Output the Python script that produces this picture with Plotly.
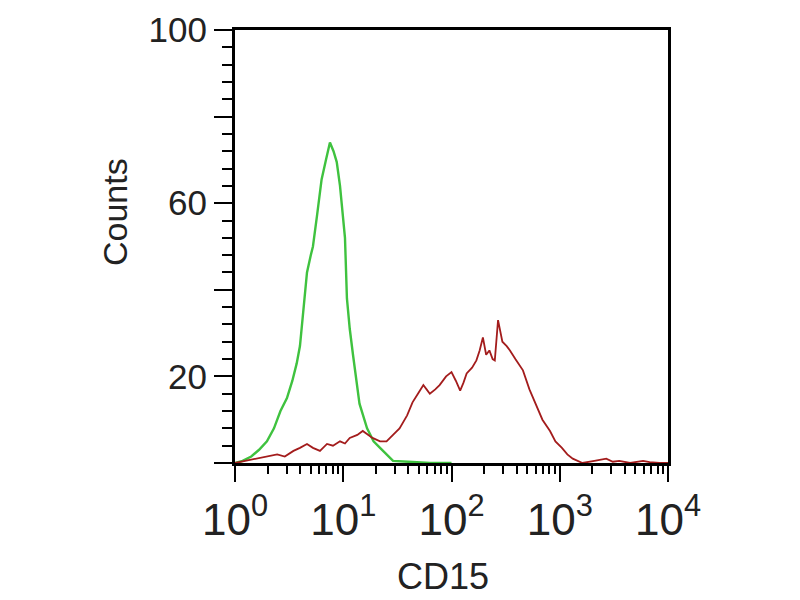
import numpy as np
import plotly.graph_objects as go

# Green (control) histogram: log10(CD15) exponent, counts
green_logx = [0.0, 0.07, 0.15, 0.22, 0.295, 0.36, 0.42, 0.48, 0.53, 0.57, 0.60, 0.635, 0.665,
              0.70, 0.72, 0.757, 0.80, 0.84, 0.877, 0.91, 0.94, 0.97, 0.995, 1.016, 1.034,
              1.06, 1.09, 1.12, 1.15, 1.22, 1.28, 1.34, 1.40, 1.46, 1.6, 1.8, 2.0]
green_counts = [0, 0.5, 1.5, 3, 5, 8, 12, 15, 19, 23, 27, 36, 44,
                48, 50, 57, 65.5, 70, 74, 72, 69.5, 64, 58, 52, 38,
                31, 25, 19, 13.7, 8, 5, 3.5, 2, 0.5, 0.3, 0, 0]

# Red (CD15 stained) histogram
red_logx = [0.0, 0.20, 0.30, 0.39, 0.46, 0.54, 0.60, 0.665, 0.72, 0.785, 0.85, 0.905, 0.97,
            1.016, 1.06, 1.13, 1.18, 1.23, 1.27, 1.34, 1.40, 1.46, 1.52, 1.59, 1.64, 1.69,
            1.74, 1.77, 1.80, 1.85, 1.89, 1.95, 2.00, 2.04, 2.08, 2.11, 2.14, 2.19, 2.23,
            2.26, 2.29, 2.32, 2.35, 2.38, 2.40, 2.43, 2.45, 2.47, 2.51, 2.54, 2.59, 2.66,
            2.72, 2.79, 2.84, 2.91, 2.96, 3.02, 3.07, 3.12, 3.21, 3.32, 3.43, 3.49, 3.55,
            3.65, 3.77, 3.83, 3.92, 4.0]
red_counts = [0, 1, 1.5, 2, 1.5, 2.8, 3.5, 4.4, 3.5, 2.8, 4.4, 4, 5,
              4.5, 5.8, 6.5, 7.4, 6.5, 5.8, 5, 5, 6.5, 8, 11, 14, 16,
              18, 17, 16, 17, 18, 20, 21, 19, 16.7, 18.5, 20.7, 22, 23.7,
              26, 29, 25, 26, 24, 23.7, 33, 30, 28, 27, 26, 24, 21.4,
              17, 12.8, 10, 7.4, 5, 3.5, 2, 1, 0, 0.5, 1, 0.3, 0.5,
              0, 0.5, 0.2, 0, 0]

x_tickvals = [1, 10, 100, 1000, 10000]
x_ticktext = ["10<sup>0</sup>", "10<sup>1</sup>", "10<sup>2</sup>", "10<sup>3</sup>", "10<sup>4</sup>"]
y_tickvals = [0, 20, 40, 60, 80, 100]
y_ticktext = ["", "20", "", "60", "", "100"]

FONT = "Liberation Sans, Arial, sans-serif"
# page has an 8px body margin; plot area should sit at page x 235-668, y 30-463
OFF = 8
L, R, T, B = 235 - OFF, 800 - (668 - OFF), 30 - OFF, 600 - (463 - OFF)

fig = go.Figure()
fig.add_trace(go.Scatter(x=10 ** np.array(green_logx), y=green_counts, mode="lines",
                         line=dict(color="#3fc23f", width=2.4), showlegend=False))
fig.add_trace(go.Scatter(x=10 ** np.array(red_logx), y=red_counts, mode="lines",
                         line=dict(color="#a31c1c", width=1.8), showlegend=False))

pw, ph = 800 - L - R, 600 - T - B


def px2paper(px, py):
    # px, py in page pixels
    return (px - OFF - L) / pw, (600 - B - (py - OFF)) / ph


cx, cy = px2paper(115, 212)
dx, dy = px2paper(443, 576)

fig.update_layout(
    width=800, height=600,
    margin=dict(l=L, r=R, t=T, b=B, autoexpand=False),
    paper_bgcolor="white", plot_bgcolor="white",
    xaxis=dict(type="log", range=[0, 4], tickvals=x_tickvals, ticktext=x_ticktext,
               ticks="outside", ticklen=16, tickwidth=2, tickcolor="black",
               showline=True, linecolor="black", linewidth=3, mirror=True,
               showgrid=False, zeroline=False, automargin=False,
               tickfont=dict(family=FONT, size=44, color="#222"),
               minor=dict(ticks="outside", ticklen=8, tickwidth=2, tickcolor="black",
                          dtick="D1", showgrid=False)),
    yaxis=dict(range=[0, 100], tickvals=y_tickvals, ticktext=y_ticktext,
               ticks="outside", ticklen=18, tickwidth=2, tickcolor="black",
               showline=True, linecolor="black", linewidth=3, mirror=True,
               showgrid=False, zeroline=False, automargin=False,
               tickfont=dict(family=FONT, size=35, color="#222"),
               minor=dict(ticks="outside", ticklen=10, tickwidth=2, tickcolor="black",
                          dtick=4, showgrid=False)),
    annotations=[
        dict(text="Counts", x=cx, y=cy, xref="paper", yref="paper", showarrow=False,
             textangle=-90, xanchor="center", yanchor="middle",
             font=dict(family=FONT, size=34, color="#222")),
        dict(text="CD15", x=dx, y=dy, xref="paper", yref="paper", showarrow=False,
             xanchor="center", yanchor="middle",
             font=dict(family=FONT, size=36, color="#222")),
    ],
)

fig.write_html("out.html")
